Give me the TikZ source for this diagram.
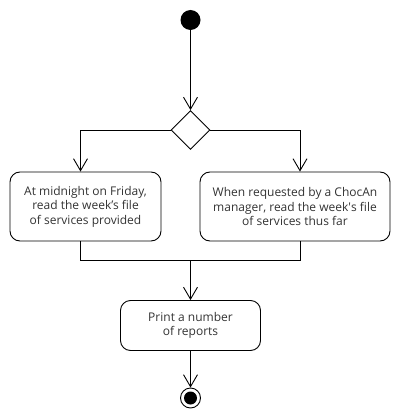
\documentclass[tikz,border=0pt]{standalone}
\usepackage{fontspec}
\setmainfont{Open Sans}
\usetikzlibrary{arrows.meta,shapes.geometric}
\begin{document}
\begin{tikzpicture}[x=1pt,y=-1pt,
  line/.style={line width=0.9pt,draw=black},
  flow/.style={line,-{Straight Barb[length=12pt,width=14pt,line width=0.9pt]}},
  action/.style={line,rounded corners=10pt,inner sep=0pt,align=center,
    font=\fontsize{12}{14.5}\selectfont,text=black!80},
  ]
\useasboundingbox (0,0) rectangle (400,420);
\node[circle,fill=black,minimum size=20pt,inner sep=0pt] (start) at (190.5,20) {};
\node[diamond,line,minimum width=39pt,minimum height=39pt,inner sep=0pt] (dec) at (190.5,130) {};
\node[action,minimum width=151pt,minimum height=69pt] (left) at (85.5,206.5) {At midnight on Friday,\\read the week’s file\\of services provided};
\node[action,minimum width=190pt,minimum height=69pt] (right) at (295,206.5) {When requested by a ChocAn\\manager, read the week\textquotesingle s file\\of services thus far};
\node[action,minimum width=140pt,minimum height=50pt] (print) at (190.5,325.5) {Print a number\\of reports};
\node[circle,line,minimum size=20pt,inner sep=0pt] (end) at (190.5,398) {};
\node[circle,fill=black,minimum size=13pt,inner sep=0pt] (endin) at (end) {};
\coordinate (join) at (190.5,260);
\coordinate (lt) at (80.5,130);
\coordinate (rt) at (300,130);
\draw[flow] (start) -- (dec.north);
\draw[flow] (dec.west) -- (lt) -- (lt |- left.north);
\draw[flow] (dec.east) -- (rt) -- (rt |- right.north);
\draw[line] (lt |- left.south) -- (lt |- join) -- (rt |- join) -- (rt |- right.south);
\draw[flow] (join) -- (print.north);
\draw[flow] (print.south) -- (end.north);
\end{tikzpicture}
\end{document}
